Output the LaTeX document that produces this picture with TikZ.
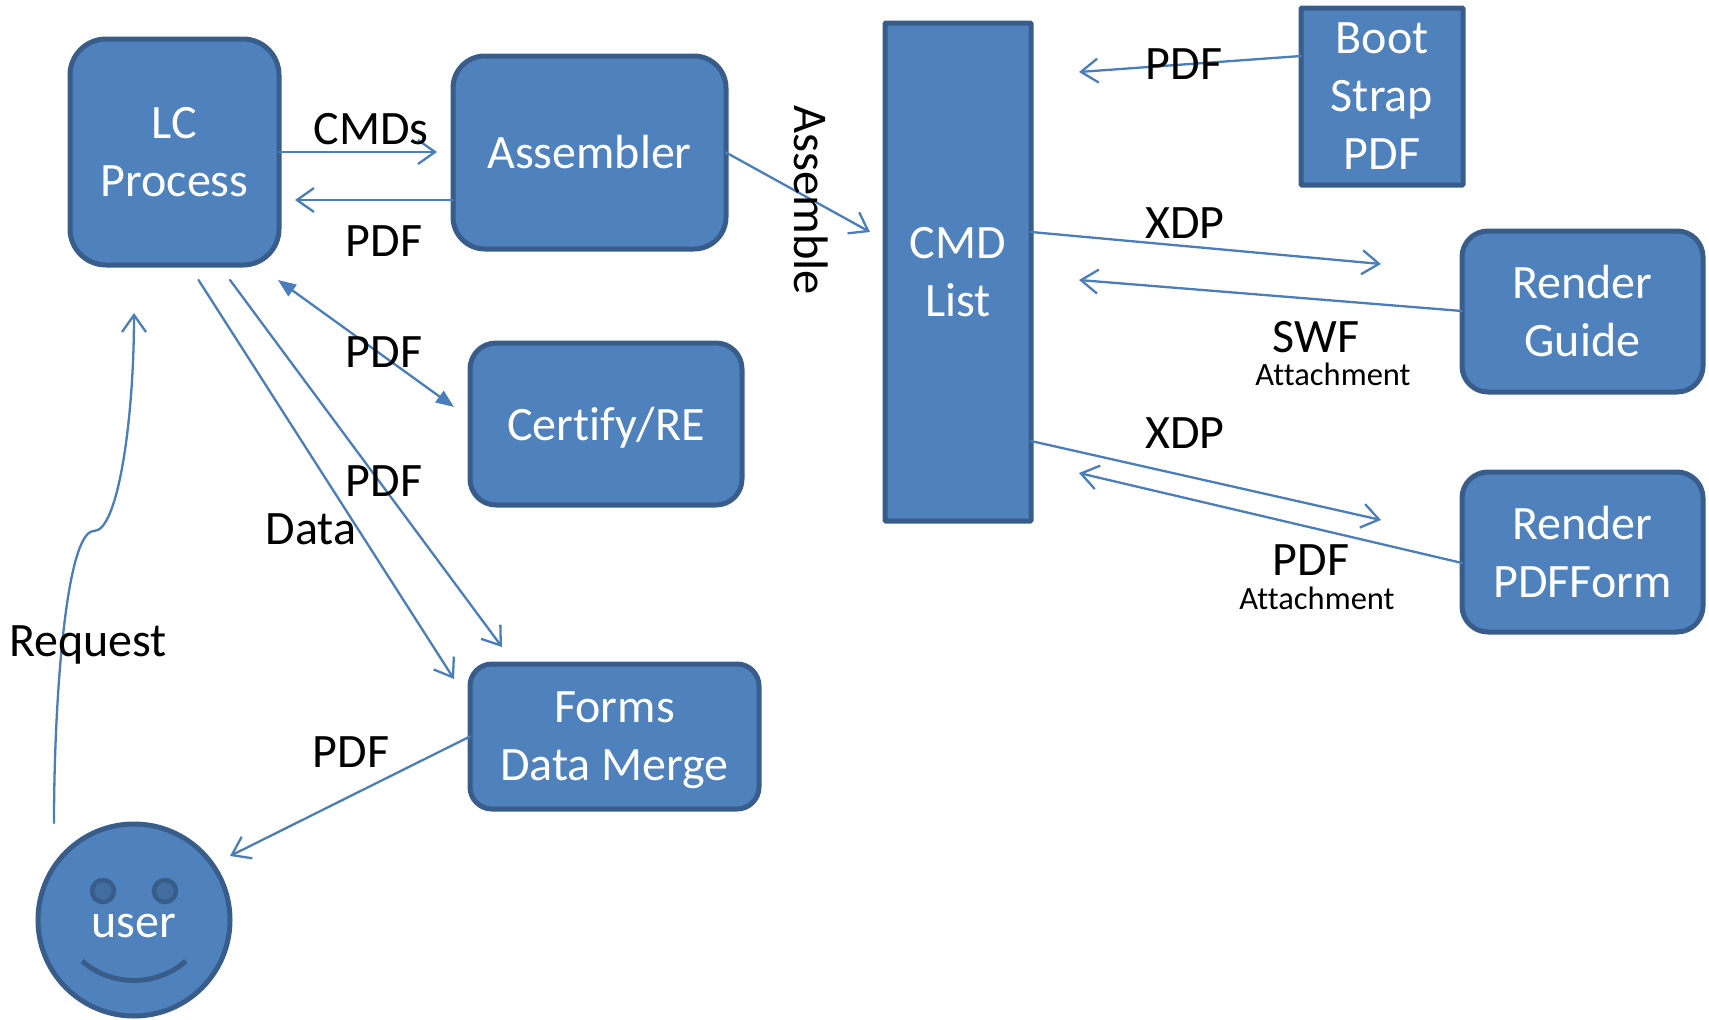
\documentclass[tikz,border=0pt]{standalone}
\usepackage{fontspec}
\setmainfont[Ligatures=NoCommon]{Carlito}
\usetikzlibrary{arrows.meta}
\definecolor{boxfill}{HTML}{4F81BD}
\definecolor{boxline}{HTML}{385D8A}
\definecolor{wire}{HTML}{4A7EBB}
\newcommand{\nodepth}[1]{\raisebox{0pt}[\height][0pt]{#1}}
\tikzset{
  block/.style={draw=boxline,fill=boxfill,line width=5pt,text=white,inner sep=0pt,outer sep=0pt,
    align=center,font=\fontsize{48}{58}\selectfont},
  tag/.style={text=black,inner sep=0pt,font=\fontsize{48}{52}\selectfont},
  smalltag/.style={text=black,inner sep=0pt,font=\fontsize{32.5}{36}\selectfont},
  wireline/.style={draw=wire,line width=2.3pt,line cap=round},
  openarrow/.style={wireline,-{Straight Barb[length=17pt,width=24pt,line width=2.3pt]}},
  bothfilled/.style={wireline,{Triangle[length=18pt,width=14pt]}-{Triangle[length=18pt,width=14pt]}},
}
\begin{document}
\begin{tikzpicture}[x=1pt,y=-1pt]
\useasboundingbox (0,0) rectangle (1709,1020);
% boxes
\node[block,rounded corners=36pt,minimum width=209pt,minimum height=226pt] (lc) at (174.5,152) {LC\\Process};
\node[block,rounded corners=32pt,minimum width=273pt,minimum height=193pt] (asm) at (589.5,152.5) {Assembler};
\node[block,rounded corners=26pt,minimum width=272pt,minimum height=162pt] (cert) at (606,424) {\nodepth{Certify/RE}};
\node[block,rounded corners=22pt,minimum width=289pt,minimum height=145pt] (forms) at (614.5,736.5) {Forms\\\nodepth{Data Merge}};
\node[block,rounded corners=1pt,minimum width=146pt,minimum height=498pt] (cmd) at (958,272) {CMD\\List};
\node[block,rounded corners=1pt,minimum width=162pt,minimum height=177pt] (boot) at (1382,96.5) {Boot\\Strap\\PDF};
\node[block,rounded corners=26pt,minimum width=241pt,minimum height=161pt] (guide) at (1582.5,311.5) {Render\\Guide};
\node[block,rounded corners=26pt,minimum width=241pt,minimum height=160pt] (pform) at (1582.5,552) {Render\\PDFForm};
% user face
\node[block,circle,minimum size=192pt] (user) at (134,920) {\raisebox{-17pt}[0pt][0pt]{user}};
\node[draw=boxline,fill=boxline!55!boxfill,line width=4.5pt,circle,minimum size=22pt,inner sep=0pt] (eyeL) at (103,891) {};
\node[draw=boxline,fill=boxline!55!boxfill,line width=4.5pt,circle,minimum size=22pt,inner sep=0pt] (eyeR) at (165,891) {};
\coordinate (smileL) at (82,961);
\coordinate (smileR) at (186,961);
\draw[draw=boxline,line width=5pt] (smileL) .. controls (112,987) and (156,987) .. (smileR);
% free ends
\coordinate (lcTop) at (437,152);
\coordinate (pdfBack) at (295,200);
\coordinate (asmBack) at (453,200);
\coordinate (cmdIn) at (870,232);
\coordinate (lcCorner) at (278,280);
\coordinate (certIn) at (454,407);
\coordinate (lcLow1) at (198.5,280);
\coordinate (formsIn1) at (454,679);
\coordinate (lcLow2) at (230,280);
\coordinate (formsIn2) at (502,647);
\coordinate (userIn) at (230,856);
\coordinate (reqStart) at (54,823);
\coordinate (reqMid) at (94,531);
\coordinate (reqEnd) at (134,313);
\coordinate (bootOut) at (1301,56);
\coordinate (bootEnd) at (1079,72);
\coordinate (xdpStart1) at (1031,232);
\coordinate (xdpEnd1) at (1381,264);
\coordinate (swfStart) at (1462,311);
\coordinate (swfEnd) at (1079,280);
\coordinate (xdpStart2) at (1031,441);
\coordinate (xdpEnd2) at (1381,520);
\coordinate (pfStart) at (1462,563);
\coordinate (pfEnd) at (1079,473);
% connectors
\draw[openarrow] (lc.east) -- (lcTop);
\draw[openarrow] (asmBack) -- (pdfBack);
\draw[openarrow] (asm.east) -- (cmdIn);
\draw[bothfilled] (lcCorner) -- (certIn);
\draw[openarrow] (lcLow1) -- (formsIn1);
\draw[openarrow] (lcLow2) -- (formsIn2);
\draw[openarrow] (forms.west) -- (userIn);
\draw[openarrow] (reqStart) .. controls (54,700) and (66,531) .. (reqMid) .. controls (118,531) and (134,420) .. (reqEnd);
\draw[openarrow] (bootOut) -- (bootEnd);
\draw[openarrow] (xdpStart1) -- (xdpEnd1);
\draw[openarrow] (swfStart) -- (swfEnd);
\draw[openarrow] (xdpStart2) -- (xdpEnd2);
\draw[openarrow] (pfStart) -- (pfEnd);
% labels
\node[tag] (tCmds) at (371,129) {CMDs};
\node[tag] (tPdf1) at (384,241) {PDF};
\node[tag] (tPdf2) at (384,352) {PDF};
\node[tag] (tPdf3) at (384,481) {PDF};
\node[tag] (tData) at (311,529) {Data};
\node[tag] (tReq) at (88,645) {Request};
\node[tag] (tPdf4) at (351,752) {PDF};
\node[tag,rotate=-90,font=\fontsize{48.5}{52}\selectfont] (tAsm) at (811,200) {Assemble};
\node[tag] (tPdf5) at (1184,64) {PDF};
\node[tag] (tXdp1) at (1185,223) {XDP};
\node[tag] (tSwf) at (1316,337) {SWF};
\node[smalltag] (tAtt1) at (1333,374) {Attachment};
\node[tag] (tXdp2) at (1185,433) {XDP};
\node[tag] (tPdf6) at (1311,560) {PDF};
\node[smalltag] (tAtt2) at (1317,598) {Attachment};
\end{tikzpicture}
\end{document}
